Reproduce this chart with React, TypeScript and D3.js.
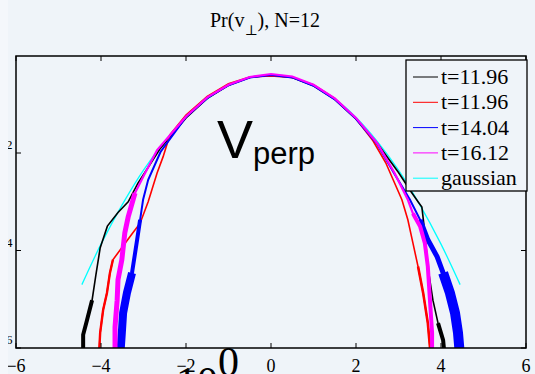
import React from "react";
import * as d3 from "d3";

const W = 535;
const H = 374;

// x ticks and y (log) ticks
const xTicks = [-6, -4, -2, 0, 2, 4, 6];
const yTickExps = [-2, -4, -6];

// series: [vperp, log10 Pr]
const black: [number, number][] = [
  [-4.42, -6.2], [-4.42, -5.73], [-4.33, -5.43], [-4.21, -5.02], [-4.12, -4.5], [-4.02, -3.95],
  [-3.85, -3.5], [-3.6, -3.22], [-3.36, -3.0], [-3.13, -2.62], [-2.6, -1.9], [-2.0, -1.28],
  [-1.5, -0.88], [-1.0, -0.61], [-0.5, -0.45], [0, -0.4], [0.5, -0.45], [1.0, -0.62], [1.5, -0.9],
  [2.0, -1.3], [2.5, -1.8], [3.0, -2.4], [3.3, -2.8], [3.46, -3.0], [3.55, -3.11], [3.62, -3.64],
  [3.69, -4.33], [3.81, -5.02], [3.93, -5.49], [4.05, -5.84], [4.09, -6.2],
];
const red: [number, number][] = [
  [-4.05, -6.2], [-4.02, -5.69], [-3.95, -5.22], [-3.86, -4.87], [-3.79, -4.46], [-3.72, -4.19],
  [-3.55, -3.99], [-3.32, -3.72], [-3.08, -3.44], [-2.89, -3.0], [-2.68, -2.41], [-2.54, -2.08],
  [-2.38, -1.63], [-2.0, -1.22], [-1.5, -0.84], [-1.0, -0.58], [-0.5, -0.44], [0, -0.42],
  [0.5, -0.45], [1.0, -0.6], [1.5, -0.88], [2.0, -1.3], [2.4, -1.75], [2.7, -2.2], [2.9, -2.6],
  [3.08, -2.96], [3.22, -3.37], [3.34, -3.85], [3.46, -4.33], [3.58, -4.87], [3.69, -5.49],
  [3.74, -5.98], [3.77, -6.2],
];
const blue: [number, number][] = [
  [-3.55, -6.2], [-3.51, -5.69], [-3.48, -5.28], [-3.39, -4.87], [-3.27, -4.46], [-3.15, -3.78],
  [-3.08, -3.37], [-3.01, -2.96], [-2.89, -2.55], [-2.6, -1.98], [-2.0, -1.26], [-1.5, -0.87],
  [-1.0, -0.61], [-0.5, -0.45], [0, -0.4], [0.5, -0.45], [1.0, -0.62], [1.5, -0.9], [2.0, -1.3],
  [2.5, -1.82], [2.9, -2.42], [3.27, -2.96], [3.51, -3.37], [3.69, -3.78], [3.91, -4.13],
  [4.05, -4.46], [4.21, -4.87], [4.33, -5.28], [4.4, -5.69], [4.45, -6.2],
];
const magenta: [number, number][] = [
  [-3.67, -6.2], [-3.67, -5.57], [-3.62, -5.02], [-3.6, -4.6], [-3.51, -4.19], [-3.44, -3.64],
  [-3.36, -3.31], [-3.2, -2.82], [-3.01, -2.49], [-2.68, -1.94], [-2.0, -1.25], [-1.5, -0.86],
  [-1.0, -0.6], [-0.5, -0.44], [0, -0.38], [0.5, -0.43], [1.0, -0.6], [1.5, -0.88], [2.0, -1.28],
  [2.5, -1.8], [2.9, -2.4], [3.22, -2.96], [3.34, -3.24], [3.51, -3.51], [3.62, -3.85],
  [3.69, -4.33], [3.74, -5.02], [3.79, -5.69], [3.79, -6.2],
];
const gaussian: [number, number][] = [
  [-4.45, -4.7], [-4.0, -3.87], [-3.5, -3.06], [-3.0, -2.35], [-2.5, -1.76], [-2.0, -1.27],
  [-1.5, -0.89], [-1.0, -0.62], [-0.5, -0.45], [0, -0.4], [0.5, -0.45], [1.0, -0.62],
  [1.5, -0.89], [2.0, -1.27], [2.5, -1.76], [3.0, -2.35], [3.5, -3.06], [4.0, -3.87], [4.45, -4.7],
];

const legendLabels = ["t=11.96", "t=11.96", "t=14.04", "t=16.12", "gaussian"];
const colors = ["#000000", "#ff0000", "#0000ff", "#ff00ff", "#00ffff"];

const serif = '"Liberation Serif", "Times New Roman", Times, "DejaVu Serif", serif';
const sans = '"Liberation Sans", Arial, Helvetica, sans-serif';

export default function App() {
  const left = 16, right = 526, top = 56, bottom = 348;
  const x = d3.scaleLinear().domain([-6, 6]).range([left, right]);
  const y = d3.scaleLog().domain([1e-6, 1]).range([bottom, top - 0.5]);

  const line = d3
    .line<[number, number]>()
    .x((d) => x(d[0]))
    .y((d) => y(Math.pow(10, d[1])));
  const gaussLine = d3
    .line<[number, number]>()
    .x((d) => x(d[0]))
    .y((d) => y(Math.pow(10, d[1])))
    .curve(d3.curveCatmullRom);

  const tail = (s: [number, number][], lim: number, side: "l" | "r") =>
    s.filter((d) => d[1] <= lim && (side === "l" ? d[0] < 0 : d[0] > 0));

  const bg = "#eff4f9";
  const serifStyle = { fontFamily: serif };

  return (
    <svg
      width={W}
      height={H}
      style={{ position: "fixed", left: 0, top: 0, background: bg }}
    >
      <defs>
        <clipPath id="plotclip">
          <rect x={left} y={top} width={right - left} height={bottom - top} />
        </clipPath>
        <clipPath id="figclip">
          <rect x={8} y={0} width={W - 8} height={H} />
        </clipPath>
      </defs>
      <rect x={0} y={0} width={W} height={H} fill={bg} />
      <rect x={0} y={0} width={8} height={H} fill="#f4f7fb" />

      <g clipPath="url(#figclip)">
        {/* title */}
        <text x={265} y={27} textAnchor="middle" style={serifStyle} fontSize={20} fill="#000">
          Pr(v<tspan fontSize={14} dy={8}>⊥</tspan>
          <tspan dy={-8}>), N=12</tspan>
        </text>

        <g clipPath="url(#plotclip)">
          {/* gaussian */}
          <path d={gaussLine(gaussian) || ""} fill="none" stroke={colors[4]} strokeWidth={1.3} />
          {/* black */}
          <path d={line(black) || ""} fill="none" stroke={colors[0]} strokeWidth={1.6} />
          <path d={line(tail(black, -5.0, "l")) || ""} fill="none" stroke={colors[0]} strokeWidth={4} />
          <path d={line(tail(black, -5.2, "r")) || ""} fill="none" stroke={colors[0]} strokeWidth={4} />
          {/* red */}
          <path d={line(red) || ""} fill="none" stroke={colors[1]} strokeWidth={1.6} />
          <path d={line(tail(red, -4.0, "l")) || ""} fill="none" stroke={colors[1]} strokeWidth={2.4} />
          <path d={line(tail(red, -4.0, "r")) || ""} fill="none" stroke={colors[1]} strokeWidth={2.6} />
          {/* blue */}
          <path d={line(blue) || ""} fill="none" stroke={colors[2]} strokeWidth={2} />
          <path d={line(tail(blue, -3.0, "l")) || ""} fill="none" stroke={colors[2]} strokeWidth={4} />
          <path d={line(tail(blue, -4.4, "l")) || ""} fill="none" stroke={colors[2]} strokeWidth={8} />
          <path d={line(tail(blue, -3.0, "r")) || ""} fill="none" stroke={colors[2]} strokeWidth={5} />
          <path d={line(tail(blue, -4.4, "r")) || ""} fill="none" stroke={colors[2]} strokeWidth={10} />
          {/* magenta */}
          <path d={line(magenta) || ""} fill="none" stroke={colors[3]} strokeWidth={2.2} />
          <path d={line(tail(magenta, -2.5, "l")) || ""} fill="none" stroke={colors[3]} strokeWidth={5} />
          <path d={line(tail(magenta, -3.0, "r")) || ""} fill="none" stroke={colors[3]} strokeWidth={4} />
        </g>

        {/* frame */}
        <rect x={left} y={top} width={right - left} height={bottom - top} fill="none" stroke="#000" strokeWidth={1.5} />

        {/* x ticks */}
        {xTicks.map((t) => (
          <g key={"x" + t}>
            <line x1={x(t)} x2={x(t)} y1={bottom} y2={bottom - 5} stroke="#000" strokeWidth={1} />
            <line x1={x(t)} x2={x(t)} y1={top} y2={top + 5} stroke="#000" strokeWidth={1} />
            <text x={x(t)} y={372} textAnchor="middle" style={serifStyle} fontSize={18} fill="#000">
              {t < 0 ? "\u2212" + Math.abs(t) : String(t)}
            </text>
          </g>
        ))}

        {/* y ticks */}
        {yTickExps.map((e) => (
          <g key={"y" + e}>
            <line x1={left} x2={left + 5} y1={y(Math.pow(10, e))} y2={y(Math.pow(10, e))} stroke="#000" strokeWidth={1} />
            <line x1={right} x2={right - 5} y1={y(Math.pow(10, e))} y2={y(Math.pow(10, e))} stroke="#000" strokeWidth={1} />
            <text x={12.5} y={y(Math.pow(10, e)) + 2} textAnchor="end" style={serifStyle} fontSize={17} fill="#000">
              10<tspan fontSize={13} dy={-6}>{"\u2212" + Math.abs(e)}</tspan>
            </text>
          </g>
        ))}

        {/* stray exponent label */}
        <text x={176} y={396} style={serifStyle} fontSize={42} fill="#000">
          10<tspan dx={0} dy={-20}>0</tspan>
        </text>

        {/* Vperp annotation */}
        <text x={217} y={158} style={{ fontFamily: sans }} fontSize={54} fill="#000">
          V<tspan fontSize={31} dy={6}>perp</tspan>
        </text>

        {/* legend */}
        <g>
          <rect x={406} y={60} width={121} height={131} fill={bg} stroke="#000" strokeWidth={1.3} />
          {legendLabels.map((lab, i) => {
            const cy = 77 + i * 25.3;
            return (
              <g key={"lg" + i}>
                <line x1={413} x2={438} y1={cy} y2={cy} stroke={colors[i]} strokeWidth={1} />
                <text x={441} y={cy + 7} style={serifStyle} fontSize={22} fill="#000">
                  {lab}
                </text>
              </g>
            );
          })}
        </g>
      </g>
    </svg>
  );
}
